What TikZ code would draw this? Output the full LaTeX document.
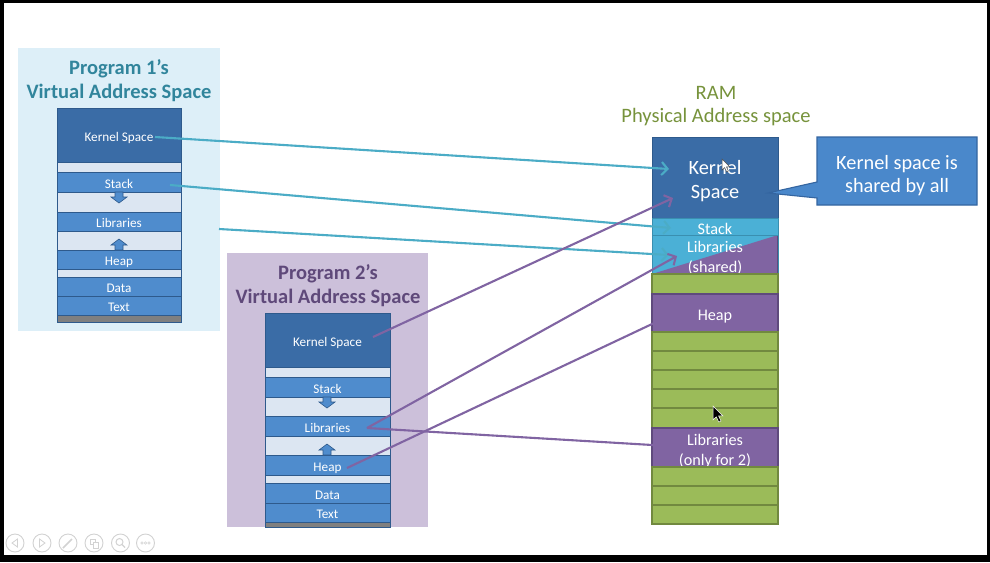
\documentclass[tikz,border=0pt]{standalone}
\usepackage{fontspec}
\setmainfont{Carlito}
\usetikzlibrary{arrows.meta}
\definecolor{pOnebg}{HTML}{DDEFF8}
\definecolor{pTwobg}{HTML}{CCC0DA}
\definecolor{pOnetitle}{HTML}{31859C}
\definecolor{pTwotitle}{HTML}{5F497A}
\definecolor{ramtitle}{HTML}{77933C}
\definecolor{vkc}{HTML}{3A6CA6}
\definecolor{vbc}{HTML}{4F8CCD}
\definecolor{vgc}{HTML}{DCE6F2}
\definecolor{vbd}{HTML}{2E5A8C}
\definecolor{grayc}{HTML}{7F7F7F}
\definecolor{rcc}{HTML}{4BB0D6}
\definecolor{rcd}{HTML}{3A8FB0}
\definecolor{rpc}{HTML}{8064A2}
\definecolor{rpd}{HTML}{5F4A7D}
\definecolor{rgc}{HTML}{9BBB59}
\definecolor{rgd}{HTML}{71893F}
\definecolor{calc}{HTML}{4A88CB}
\definecolor{cald}{HTML}{3465A0}
\definecolor{cyanA}{HTML}{4BACC6}
\definecolor{purpA}{HTML}{8064A2}
\definecolor{btnc}{HTML}{D2D2D2}
\newcommand\mcell[7]{\node[#6,anchor=north west,minimum width={(#4-#2)*1pt},minimum height={(#5-#3)*1pt}] (#1) at (#2,#3) {#7};}
\begin{document}
\begin{tikzpicture}[x=1pt,y=-1pt,
  cellbase/.style={draw, inner sep=0pt, outer sep=0pt, line width=0.9pt, text=white, align=center, font=\fontsize{13.2}{15}\selectfont},
  vk/.style={cellbase, fill=vkc, draw=vbd, text height=12.5pt, text depth=0pt},
  vb/.style={cellbase, fill=vbc, draw=vbd, text height=12.5pt, text depth=0pt},
  vg/.style={cellbase, fill=vgc, draw=vbd},
  vgray/.style={cellbase, fill=grayc, draw=vbd},
  rk/.style={cellbase, fill=vkc, draw=vbd, text height=42.5pt, text depth=0pt, font=\fontsize{20.3}{24}\selectfont},
  rc/.style={cellbase, fill=rcc, draw=rcd, text depth=0pt, font=\fontsize{16.2}{20}\selectfont},
  rp/.style={cellbase, fill=rpc, draw=rpd, line width=1.4pt, text depth=0pt, font=\fontsize{16.2}{20}\selectfont},
  rg/.style={cellbase, fill=rgc, draw=rgd, line width=1.4pt},
  one/.style={text height=15.5pt},
  two/.style={text height=35.5pt},
  panel/.style={inner sep=0pt, outer sep=0pt, anchor=north west},
  ptitle/.style={align=center, inner sep=0pt, font=\bfseries\fontsize{20.5}{24}\selectfont},
  barrow/.style={fill=vbc, draw=vbd, line width=0.6pt},
  carrow/.style={draw=cyanA, line width=2.1pt, -{Straight Barb[length=6pt,width=13pt]}},
  parrow/.style={draw=purpA, line width=2.1pt, -{Straight Barb[length=6pt,width=13pt]}},
  tbtn/.style={circle, draw=btnc, line width=0.9pt, minimum size=18pt, inner sep=0pt},
  glyph/.style={draw=btnc, line width=0.8pt}
]
\useasboundingbox (0,0) rectangle (990,562);
\fill[black] (0,0) rectangle (990,562);
\fill[white] (4,3) rectangle (987,555);

% ---------- Program 1 ----------
\node[panel, fill=pOnebg, minimum width=202pt, minimum height=283pt] (panel1) at (18,48) {};
\node[ptitle, text=pOnetitle] (title1) at (119,81) {Program 1’s\\Virtual Address Space};
\mcell{k1}{57}{108}{181}{162}{vk}{Kernel Space}
\mcell{g1a}{57}{162}{181}{172}{vg}{}
\mcell{s1}{57}{172}{181}{192}{vb}{Stack}
\mcell{g1b}{57}{192}{181}{212}{vg}{}
\mcell{l1}{57}{212}{181}{231}{vb}{Libraries}
\mcell{g1c}{57}{231}{181}{250}{vg}{}
\mcell{h1}{57}{250}{181}{269}{vb}{Heap}
\mcell{g1d}{57}{269}{181}{277}{vg}{}
\mcell{d1}{57}{277}{181}{296}{vb}{Data}
\mcell{t1}{57}{296}{181}{315}{vb}{Text}
\mcell{e1}{57}{315}{181}{322}{vgray}{}
\draw[barrow, shift={(119,192)}] (-4,0) -- (4,0) -- (4,5) -- (8,5) -- (0,11) -- (-8,5) -- (-4,5) -- cycle;
\draw[barrow, shift={(119,250)}] (-4,0) -- (4,0) -- (4,-5) -- (8,-5) -- (0,-11) -- (-8,-5) -- (-4,-5) -- cycle;

% ---------- Program 2 ----------
\node[panel, fill=pTwobg, minimum width=201pt, minimum height=274pt] (panel2) at (227,253) {};
\node[ptitle, text=pTwotitle] (title2) at (328,285.5) {Program 2’s\\Virtual Address Space};
\mcell{k2}{265}{313}{390}{367}{vk}{Kernel Space}
\mcell{g2a}{265}{367}{390}{377}{vg}{}
\mcell{s2}{265}{377}{390}{397}{vb}{Stack}
\mcell{g2b}{265}{397}{390}{416}{vg}{}
\mcell{l2}{265}{416}{390}{436}{vb}{Libraries}
\mcell{g2c}{265}{436}{390}{455}{vg}{}
\mcell{h2}{265}{455}{390}{475}{vb}{Heap}
\mcell{g2d}{265}{475}{390}{483}{vg}{}
\mcell{d2}{265}{483}{390}{503}{vb}{Data}
\mcell{t2}{265}{503}{390}{522}{vb}{Text}
\mcell{e2}{265}{522}{390}{527}{vgray}{}
\draw[barrow, shift={(327,397)}] (-4,0) -- (4,0) -- (4,5) -- (8,5) -- (0,11) -- (-8,5) -- (-4,5) -- cycle;
\draw[barrow, shift={(327,455)}] (-4,0) -- (4,0) -- (4,-5) -- (8,-5) -- (0,-11) -- (-8,-5) -- (-4,-5) -- cycle;

% ---------- RAM ----------
\node[align=center, inner sep=0pt, text=ramtitle, font=\fontsize{20.5}{23}\selectfont] (ramtitle) at (716,106.5) {RAM\\Physical Address space};
\mcell{rk}{652}{137}{778}{218}{rk}{Kernel\\Space}
\mcell{rs}{652}{218}{778}{235}{rc, one}{Stack}
\mcell{rl}{652}{235}{778}{274}{rc, two, path picture={\fill[rpc] (path picture bounding box.south west) -- (path picture bounding box.north east) -- (path picture bounding box.south east) -- cycle; \draw[rpd, line width=1.8pt] (path picture bounding box.north east) -- (path picture bounding box.south east);}}{Libraries\\(shared)}
\mcell{rg1}{652}{274}{778}{294}{rg}{}
\mcell{rh}{652}{294}{778}{332}{rp, one}{Heap}
\mcell{rg2}{652}{332}{778}{351}{rg}{}
\mcell{rg3}{652}{351}{778}{370}{rg}{}
\mcell{rg4}{652}{370}{778}{389}{rg}{}
\mcell{rg5}{652}{389}{778}{408}{rg}{}
\mcell{rg6}{652}{408}{778}{428}{rg}{}
\mcell{rl2}{652}{428}{778}{467}{rp, two}{Libraries\\(only for 2)}
\mcell{rg7}{652}{467}{778}{486}{rg}{}
\mcell{rg8}{652}{486}{778}{505}{rg}{}
\mcell{rg9}{652}{505}{778}{524}{rg}{}

% ---------- Callout ----------
\draw[fill=calc, draw=cald, line width=1.1pt] (817,137) -- (977,137) -- (977,205) -- (817,205) -- (817,198) -- (768,193) -- (817,182) -- cycle;
\node[align=center, inner sep=0pt, text=white, font=\fontsize{20.3}{23}\selectfont] (callout) at (897,176) {Kernel space is\\shared by all};

% ---------- Connectors ----------
\coordinate (a1s) at (155,137);
\coordinate (a1e) at (669,169);
\coordinate (a2s) at (170,185);
\coordinate (a2e) at (671,228);
\coordinate (a3s) at (219,229);
\coordinate (a3e) at (669,255);
\draw[carrow] (a1s) -- (a1e);
\draw[carrow] (a2s) -- (a2e);
\draw[carrow] (a3s) -- (a3e);
\coordinate (b1s) at (373,337);
\coordinate (b1e) at (673,198);
\coordinate (b2s) at (367,428);
\coordinate (b2e) at (677,256);
\coordinate (b3e) at (669,446);
\coordinate (b4s) at (347,468);
\coordinate (b4e) at (669,316);
\draw[parrow] (b1s) -- (b1e);
\draw[parrow] (b2s) -- (b2e);
\draw[parrow] (b2s) -- (b3e);
\draw[parrow] (b4s) -- (b4e);

% ---------- Cursors ----------
\draw[fill=white, draw=black!70, line width=0.5pt, shift={(722,159)}, scale=0.8] (0,0) -- (0,14) -- (3.3,10.8) -- (5.8,16) -- (8,15) -- (5.6,9.9) -- (10,9.9) -- cycle;
\draw[fill=black, draw=white, line width=0.5pt, shift={(713,406)}] (0,0) -- (0,14) -- (3.3,10.8) -- (5.8,16) -- (8,15) -- (5.6,9.9) -- (10,9.9) -- cycle;

% ---------- Toolbar ----------
\node[tbtn] (btn1) at (15,543) {};
\node[tbtn] (btn2) at (42,543) {};
\node[tbtn] (btn3) at (68,543) {};
\node[tbtn] (btn4) at (94,543) {};
\node[tbtn] (btn5) at (120.5,543) {};
\node[tbtn] (btn6) at (145.5,543) {};
\draw[glyph] ([xshift=2.5pt,yshift=4pt]btn1.center) -- ([xshift=-3pt]btn1.center) -- ([xshift=2.5pt,yshift=-4pt]btn1.center) -- cycle;
\draw[glyph] ([xshift=-2.5pt,yshift=4pt]btn2.center) -- ([xshift=3pt]btn2.center) -- ([xshift=-2.5pt,yshift=-4pt]btn2.center) -- cycle;
\draw[glyph, line width=1.6pt] ([xshift=-5pt,yshift=-5pt]btn3.center) -- ([xshift=4pt,yshift=4pt]btn3.center);
\draw[glyph] ([xshift=-4pt,yshift=-1pt]btn4.center) rectangle ([xshift=1pt,yshift=4pt]btn4.center);
\draw[glyph, fill=white] ([xshift=-1pt,yshift=-5pt]btn4.center) rectangle ([xshift=4pt,yshift=1pt]btn4.center);
\draw[glyph, line width=1pt] ([xshift=-1pt,yshift=1pt]btn5.center) circle[radius=3.5pt];
\draw[glyph, line width=1.4pt] ([xshift=1.6pt,yshift=-1.6pt]btn5.center) -- ([xshift=4.5pt,yshift=-4.5pt]btn5.center);
\draw[glyph, line width=0.5pt] ([xshift=-3.5pt]btn6.center) circle[radius=1.3pt];
\draw[glyph, line width=0.5pt] (btn6.center) circle[radius=1.3pt];
\draw[glyph, line width=0.5pt] ([xshift=3.5pt]btn6.center) circle[radius=1.3pt];
\end{tikzpicture}
\end{document}
